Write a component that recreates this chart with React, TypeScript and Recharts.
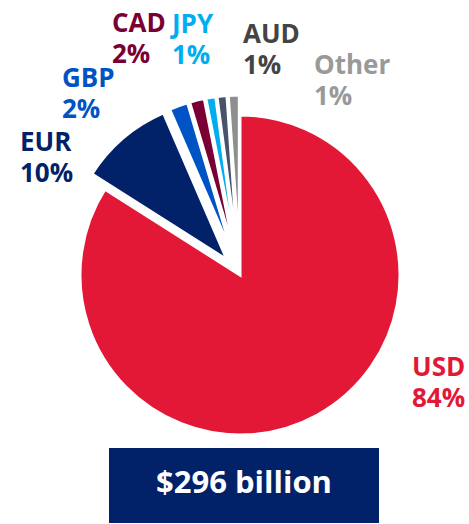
import { PieChart, Pie, Sector } from "recharts"

const currencies = ["USD", "EUR", "GBP", "CAD", "JPY", "AUD", "Other"]
const shares = [84.0, 9.5, 1.9, 1.5, 1.0, 1.0, 1.1]
const shareLabels = ["84%", "10%", "2%", "2%", "1%", "1%", "1%"]
const sliceColors = ["#e31837", "#012169", "#0053c4", "#7a0034", "#00aeef", "#46536b", "#8f8f8f"]
const textColors = ["#e31837", "#012169", "#0053c4", "#7a0034", "#00aeef", "#444444", "#999999"]
const totalText = "$296 billion"

const data = currencies.map((name, i) => ({ name, value: shares[i] }))

const RADIAN = Math.PI / 180
const EXPLODE = 20
const LINE_GAP = 31
const FONT = "'Open Sans', 'Noto Sans', sans-serif"

// left edge + first baseline of each two-line label
const labelAt: Record<string, [number, number]> = {
  USD: [412, 376],
  EUR: [20, 151],
  GBP: [62, 87],
  CAD: [112, 32],
  JPY: [172, 33],
  AUD: [243, 43],
  Other: [314, 74],
}

// draws each slice pulled out along its mid angle (USD stays put), plus its label
function renderSlice(props: any) {
  const { cx, cy, midAngle, outerRadius, startAngle, endAngle, index } = props
  const off = index === 0 ? 0 : EXPLODE
  const dx = Math.cos(-midAngle * RADIAN) * off
  const dy = Math.sin(-midAngle * RADIAN) * off
  const [lx, ly] = labelAt[currencies[index]]
  const textProps = { fill: textColors[index], fontSize: 26, fontWeight: 700, fontFamily: FONT }
  return (
    <g key={`slice-${index}`}>
      <Sector
        cx={cx + dx}
        cy={cy + dy}
        innerRadius={0}
        outerRadius={outerRadius}
        startAngle={startAngle}
        endAngle={endAngle}
        fill={sliceColors[index]}
        stroke="#fff"
        strokeWidth={3}
      />
      <text x={lx} y={ly} {...textProps}>
        {currencies[index]}
      </text>
      <text x={lx} y={ly + LINE_GAP} {...textProps}>
        {shareLabels[index]}
      </text>
    </g>
  )
}

export default function App() {
  return (
    <div style={{ position: "absolute", left: 0, top: 0, width: 469, height: 524, background: "#fff", fontFamily: FONT }}>
      <PieChart width={469} height={524} margin={{ top: 0, right: 0, bottom: 0, left: 0 }}>
        <Pie
          data={data}
          dataKey="value"
          nameKey="name"
          cx={240}
          cy={275}
          innerRadius={0}
          outerRadius={160}
          startAngle={90}
          endAngle={-270}
          fill="none"
          stroke="none"
          label={renderSlice}
          labelLine={false}
          isAnimationActive={false}
        />
      </PieChart>
      <div
        style={{
          position: "absolute",
          left: 109,
          top: 448,
          width: 270,
          height: 75,
          lineHeight: "67px",
          background: "#012169",
          color: "#fff",
          fontSize: 31,
          fontWeight: 700,
          textAlign: "center",
        }}
      >
        {totalText}
      </div>
    </div>
  )
}
